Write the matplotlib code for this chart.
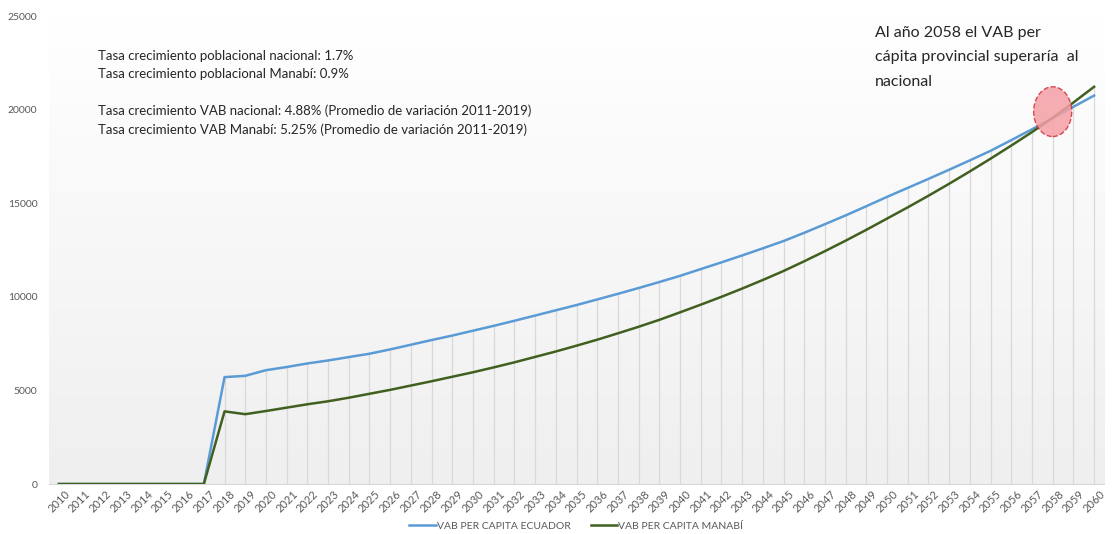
import matplotlib.pyplot as plt
import matplotlib.patches as mpatches
from matplotlib.colors import LinearSegmentedColormap
import numpy as np

# Data
years = list(range(2010, 2061))
vab_ecuador = [0, 0, 0, 0, 0, 0, 0, 0,
               5710, 5780, 6080, 6250, 6440, 6600, 6780, 6960, 7190, 7440,
               7690, 7930, 8190, 8450, 8720, 9000, 9280, 9560, 9860, 10160,
               10470, 10790, 11120, 11480, 11840, 12210, 12590, 12980, 13420,
               13880, 14350, 14840, 15340, 15820, 16300, 16790, 17290, 17800,
               18370, 18950, 19550, 20150, 20750]
vab_manabi = [0, 0, 0, 0, 0, 0, 0, 0,
              3880, 3730, 3900, 4080, 4260, 4420, 4610, 4820, 5030, 5260,
              5490, 5730, 5970, 6230, 6500, 6790, 7080, 7390, 7710, 8050,
              8400, 8770, 9170, 9580, 10000, 10440, 10900, 11380, 11900,
              12440, 13000, 13580, 14180, 14780, 15400, 16040, 16700, 17380,
              18080, 18800, 19560, 20380, 21220]
y_ticks = [0, 5000, 10000, 15000, 20000, 25000]
notes_left = ["Tasa crecimiento poblacional nacional: 1.7%",
              "Tasa crecimiento poblacional Manabí: 0.9%",
              "Tasa crecimiento VAB nacional: 4.88% (Promedio de variación 2011-2019)",
              "Tasa crecimiento VAB Manabí: 5.25% (Promedio de variación 2011-2019)"]
note_right = "Al año 2058 el VAB per\ncápita provincial superaría  al\nnacional"
cross_year = 2058
cross_value = 19890

plt.rcParams['font.family'] = ['Lato', 'DejaVu Sans']

fig = plt.figure(figsize=(11.19, 5.34), dpi=100)
ax = fig.add_axes([0.0434, 0.0936, 0.9436, 0.8764])

# Gradient background of the plot area
grad = np.linspace(0, 1, 256).reshape(-1, 1)
cmap = LinearSegmentedColormap.from_list('bg', ['#ffffff', '#efefef'])
ax.imshow(grad, aspect='auto', cmap=cmap, extent=[0, 1, 0, 1],
          transform=ax.transAxes, zorder=0)

# Drop lines from the higher series down to the axis
tops = [max(a, b) for a, b in zip(vab_ecuador, vab_manabi)]
ax.vlines(years, 0, tops, color='#d9d9d9', linewidth=0.9, zorder=1)

ax.plot(years, vab_ecuador, color='#5b9bd5', linewidth=1.8, zorder=3,
        label='VAB PER CAPITA ECUADOR')
ax.plot(years, vab_manabi, color='#41601f', linewidth=1.8, zorder=3,
        label='VAB PER CAPITA MANABÍ')

# Highlight the crossing point
ell = mpatches.Ellipse((cross_year, cross_value), 1.84, 2660,
                       facecolor='#f4a0a6', edgecolor='#d0303a', alpha=0.85,
                       linestyle='--', linewidth=1, zorder=4)
ax.add_patch(ell)

ax.set_xlim(2009.5, 2060.5)
ax.set_ylim(0, 25000)
ax.set_xticks(years)
ax.set_xticklabels([str(y) for y in years], rotation=45, ha='center',
                   fontsize=8, color='#595959')
ax.set_yticks(y_ticks)
ax.set_yticklabels([str(v) for v in y_ticks], fontsize=7.5, color='#595959')
ax.tick_params(length=0, pad=8)
ax.tick_params(axis='x', pad=3)

for s in ['top', 'right', 'left']:
    ax.spines[s].set_visible(False)
ax.spines['bottom'].set_color('#d9d9d9')

# Text notes
ys = [56, 74, 111, 130]
for txt, yp in zip(notes_left, ys):
    fig.text(98 / 1119, 1 - yp / 534, txt, fontsize=9.5, color='#262626',
             va='center', ha='left')
fig.text(875 / 1119, 1 - 26 / 534, note_right, fontsize=11.5, color='#262626',
         va='top', ha='left', linespacing=1.95)

fig.legend(loc='lower center', bbox_to_anchor=(0.515, -0.012), ncol=2,
           frameon=False, fontsize=7.5, labelcolor='#595959', handlelength=2.5,
           handletextpad=0.1, columnspacing=2)

fig.savefig('out.png', dpi=100, facecolor='white')
